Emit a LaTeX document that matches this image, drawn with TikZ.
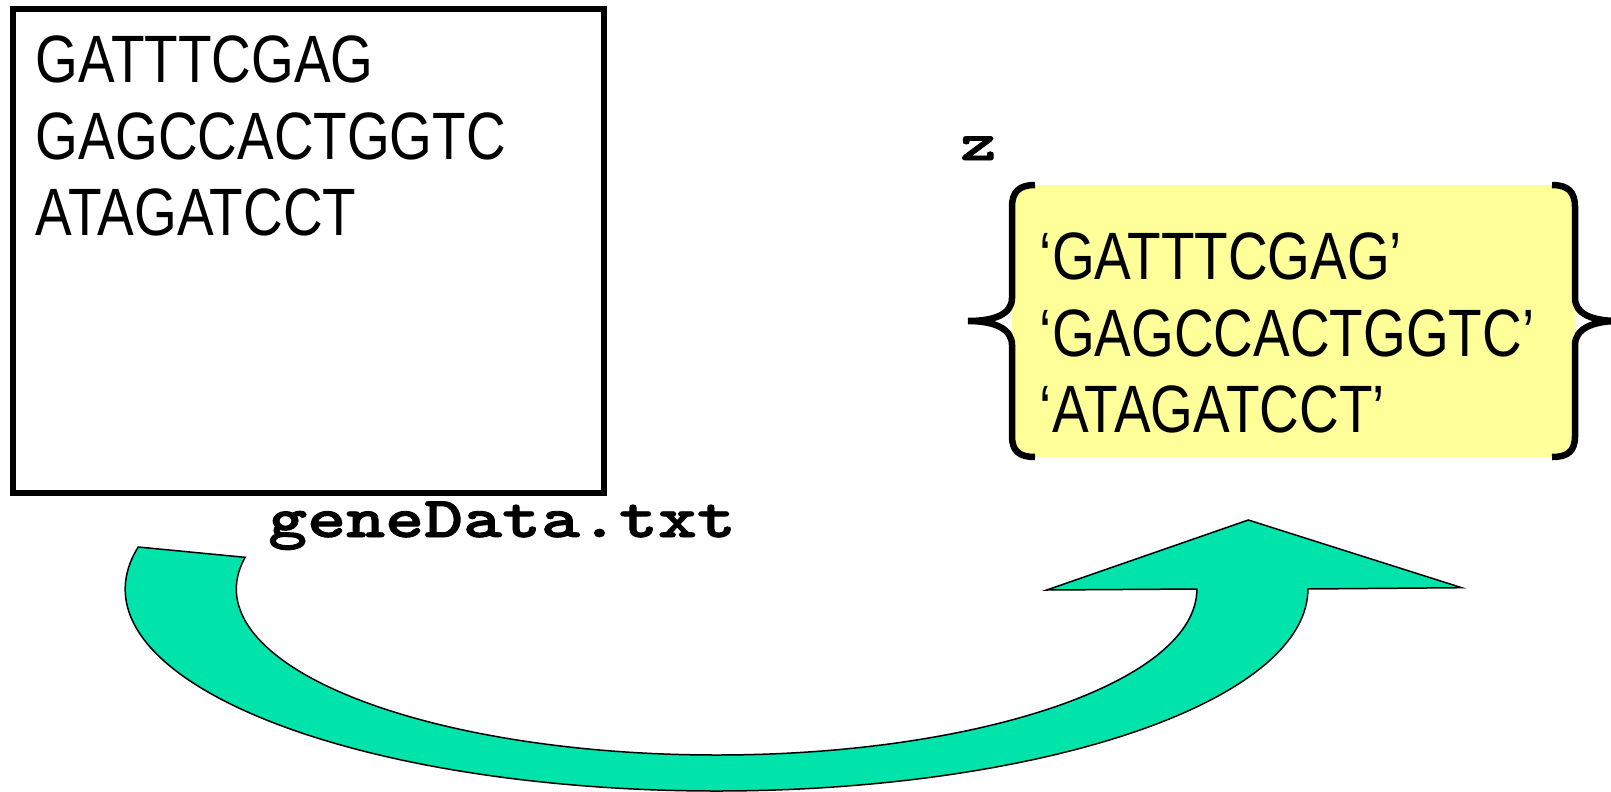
\documentclass[tikz,border=0pt]{standalone}
\usepackage{fontspec}
\usetikzlibrary{calc}
\newfontfamily\seqfont[FakeStretch=0.82]{Liberation Sans}
\newfontfamily\codefont[FakeStretch=1.28,FakeBold=1.5]{lmmonolt10-bold.otf}
\definecolor{noteyellow}{RGB}{255,255,153}
\definecolor{arrowgreen}{RGB}{0,227,170}
\newcommand{\seqsize}{\fontsize{67}{76}\selectfont}
\newcommand{\codesize}{\fontsize{58}{64}\selectfont}

\begin{document}
\begin{tikzpicture}[x=1pt,y=-1pt,
  seq/.style={anchor=base west,inner sep=0pt,font=\seqfont\seqsize},
  code/.style={anchor=base west,inner sep=0pt,font=\codefont\codesize},
  brace/.style={line width=6.5pt,line join=miter}]
% units are pixels of the page, y runs down
\useasboundingbox (0,0) rectangle (1611,792);
\draw[line width=6pt] (13,9) rectangle (604,493);
\node[seq] (fileA) at (35.7,82.3) {GATTTCGAG};
\node[seq] (fileB) at (35.7,159.3) {GAGCCACTGGTC};
\node[seq] (fileC) at (35.7,235.5) {ATAGATCCT};
\node[code] (fname) at (268,537) {geneData.txt};
\node[code,font=\codefont\fontsize{54}{60}\selectfont] (zname) at (960,160) {z};
\fill[noteyellow,rounded corners=20pt] (1012,185) rectangle (1575,457);
\draw[brace] (1035,185) .. controls (1019,185) and (1012,192) .. (1012,207)
 -- (1012,298) .. controls (1012,314) and (995,321) .. (968,321)
 .. controls (995,321) and (1012,329) .. (1012,345)
 -- (1012,436) .. controls (1012,451) and (1019,457) .. (1035,457);
\draw[brace] (1552,185) .. controls (1568,185) and (1575,192) .. (1575,207)
 -- (1575,298) .. controls (1575,314) and (1592,321) .. (1619,321)
 .. controls (1592,321) and (1575,329) .. (1575,345)
 -- (1575,436) .. controls (1575,451) and (1568,457) .. (1552,457);
\node[seq] (valA) at (1039.7,279) {‘GATTTCGAG’};
\node[seq] (valB) at (1039.7,356) {‘GAGCCACTGGTC’};
\node[seq] (valC) at (1039.7,432) {‘ATAGATCCT’};
\coordinate (bend) at (716.6,589);
\filldraw[fill=arrowgreen,line width=1.5pt,line join=miter]
 ($(bend)+(192:591.3 and 202)$) arc[start angle=192,end angle=0,x radius=591.3,y radius=202]
 -- (1461.7,587.7) -- (1248.3,520) -- (1046.7,590)
 -- ($(bend)+(0:480.3 and 166)$) arc[start angle=0,end angle=191,x radius=480.3,y radius=166]
 -- cycle;
\end{tikzpicture}
\end{document}
